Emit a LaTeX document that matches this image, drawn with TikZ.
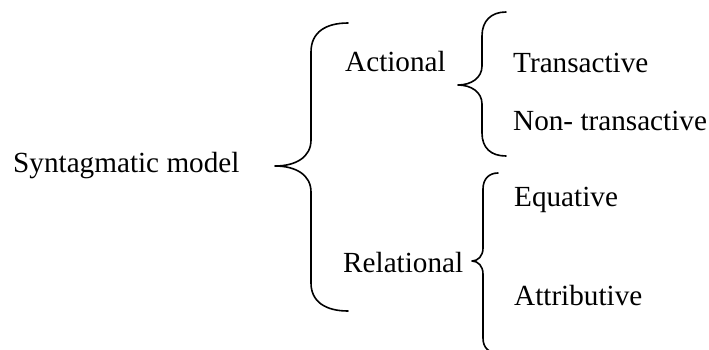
\documentclass[tikz,border=0pt]{standalone}
\usepackage{fontspec}
\setmainfont{Liberation Serif}
\begin{document}
\begin{tikzpicture}[x=1pt,y=-1pt,
  lbl/.style={anchor=base west,inner sep=0pt,font=\fontsize{29.2}{34}\selectfont},
  bracepath/.style={line width=1.6pt,line cap=round,line join=round}]
\useasboundingbox (0,0) rectangle (709,349);
% labels
\node[lbl] (root) at (13,172) {Syntagmatic model};
\node[lbl] (act) at (345,71) {Actional};
\node[lbl] (rel) at (343,272) {Relational};
\node[lbl] (tra) at (513,72) {Transactive};
\node[lbl] (non) at (513,130) {Non- transactive};
\node[lbl] (equ) at (514,206) {Equative};
\node[lbl] (att) at (514,305) {Attributive};
% big brace
\coordinate (b1t) at (348,23);
\coordinate (b1m) at (275,166);
\coordinate (b1b) at (348,311);
\draw[bracepath] (b1t) .. controls (326,23) and (311,32) .. (311,52) -- (311,140)
  .. controls (311,157) and (296,166) .. (b1m)
  .. controls (296,166) and (311,175) .. (311,192) -- (311,283)
  .. controls (311,302) and (326,311) .. (b1b);
% actional brace
\coordinate (b2t) at (506,12);
\coordinate (b2m) at (458,85);
\coordinate (b2b) at (506,156);
\draw[bracepath] (b2t) .. controls (491,12) and (482,21) .. (482,36) -- (482,66)
  .. controls (482,78) and (471,85) .. (b2m)
  .. controls (471,85) and (482,92) .. (482,104) -- (482,133)
  .. controls (482,148) and (491,156) .. (b2b);
% relational brace
\coordinate (b3t) at (498,173);
\coordinate (b3m) at (472,261);
\coordinate (b3b) at (498,353);
\draw[bracepath] (b3t) .. controls (489,173) and (483,179) .. (483,189) -- (483,248)
  .. controls (483,256) and (478,261) .. (b3m)
  .. controls (478,261) and (483,266) .. (483,274) -- (483,338)
  .. controls (483,348) and (489,353) .. (b3b);
\end{tikzpicture}
\end{document}
